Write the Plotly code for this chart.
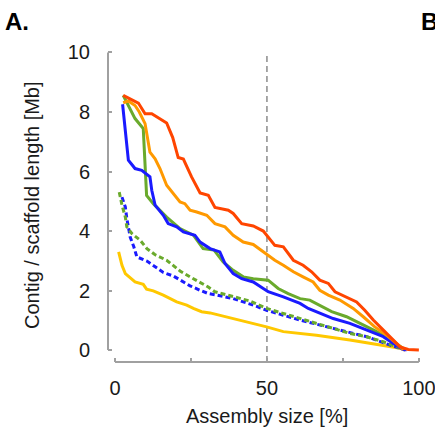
import plotly.graph_objects as go

# ---- data (Assembly size [%] vs contig/scaffold length [Mb]) ----
red_x = [2.7, 4.9, 7.7, 9.9, 12.1, 17.0, 19.0, 20.8, 22.5, 25.2, 28.0, 30.7, 32.9, 37.3, 38.9, 41.7, 45.5, 48.8, 50.4, 52.6, 55.4, 58.7, 61.9, 64.7, 67.4, 70.2, 72.4, 76.2, 79.5, 82.2, 85.0, 88.3, 91.0, 93.8, 96.5, 100]
red_y = [8.56, 8.44, 8.30, 7.94, 7.94, 7.63, 7.14, 6.47, 6.42, 5.82, 5.28, 5.20, 4.79, 4.70, 4.59, 4.25, 4.17, 4.00, 3.78, 3.52, 3.47, 3.02, 2.85, 2.63, 2.35, 2.24, 1.96, 1.79, 1.62, 1.34, 1.01, 0.67, 0.39, 0.11, 0.02, 0.0]

orange_x = [2.7, 4.4, 6.6, 8.0, 9.9, 11.5, 13.2, 14.8, 17.0, 21.4, 23.0, 24.7, 26.9, 30.2, 32.9, 36.2, 38.9, 42.2, 45.5, 49.3, 52.6, 55.4, 58.7, 61.9, 65.2, 67.4, 70.2, 74.0, 78.4, 81.7, 85.5, 89.4, 92.7, 95.0]
orange_y = [8.31, 8.37, 8.22, 8.0, 7.61, 6.65, 6.43, 6.10, 5.54, 4.98, 4.92, 4.70, 4.64, 4.53, 4.25, 4.14, 3.86, 3.63, 3.55, 3.25, 3.02, 2.85, 2.63, 2.46, 2.29, 2.01, 1.85, 1.68, 1.40, 1.12, 0.78, 0.50, 0.22, 0.02]

green_x = [2.7, 4.4, 6.6, 9.3, 10.4, 12.6, 17.0, 21.4, 25.8, 29.0, 32.6, 35.6, 38.9, 42.2, 45.5, 50.4, 53.7, 57.0, 60.9, 64.1, 66.3, 71.3, 76.2, 80.6, 86.1, 90.5, 93.8, 95.5]
green_y = [8.56, 8.22, 7.78, 7.44, 5.20, 4.92, 4.47, 4.08, 3.86, 3.41, 3.36, 2.96, 2.68, 2.46, 2.40, 2.35, 2.07, 1.90, 1.73, 1.68, 1.56, 1.29, 1.12, 0.90, 0.62, 0.34, 0.11, 0.02]

blue_x = [2.5, 4.4, 6.6, 8.8, 11.5, 12.1, 13.2, 15.9, 17.5, 20.3, 22.5, 26.3, 28.0, 31.3, 34.5, 36.2, 38.9, 41.7, 45.5, 50.4, 55.4, 60.9, 63.6, 66.3, 71.8, 77.3, 82.8, 88.3, 91.6, 94.3, 96.0]
blue_y = [8.26, 6.38, 6.10, 6.04, 5.82, 5.37, 4.87, 4.53, 4.25, 4.14, 3.97, 3.86, 3.63, 3.41, 3.30, 2.91, 2.57, 2.40, 2.29, 1.96, 1.79, 1.57, 1.40, 1.29, 1.06, 0.90, 0.67, 0.45, 0.22, 0.06, 0.0]

green_dash_x = [1.4, 2.3, 3.4, 3.9, 5.6, 8.3, 10.5, 13.1, 17.0, 21.4, 24.7, 27.9, 30.7, 32.9, 38.9, 44.4, 49.9, 55.4, 60.9, 66.3, 71.8, 77.3, 82.8, 88.3, 92.7, 95.0]
green_dash_y = [5.31, 4.87, 4.47, 4.14, 3.91, 3.69, 3.41, 3.21, 3.02, 2.66, 2.46, 2.29, 2.12, 1.96, 1.79, 1.65, 1.40, 1.23, 1.06, 0.90, 0.73, 0.56, 0.45, 0.28, 0.11, 0.02]

blue_dash_x = [2.3, 3.4, 3.9, 5.0, 6.2, 7.2, 10.5, 13.3, 15.9, 19.2, 21.9, 24.7, 28.0, 30.7, 33.4, 38.9, 45.5, 49.9, 55.4, 60.9, 71.8, 82.8, 90.5, 93.8, 95.5]
blue_dash_y = [5.14, 4.81, 4.42, 3.80, 3.47, 3.13, 2.99, 2.80, 2.61, 2.49, 2.33, 2.16, 2.01, 1.90, 1.85, 1.73, 1.51, 1.34, 1.17, 1.01, 0.73, 0.45, 0.17, 0.06, 0.0]

yellow_x = [1.2, 2.3, 3.4, 4.9, 6.6, 9.3, 10.4, 12.6, 15.9, 20.3, 23.6, 25.8, 28.5, 31.3, 38.9, 44.4, 49.9, 55.4, 60.9, 66.3, 77.3, 88.3, 93.8, 95.5]
yellow_y = [3.30, 2.85, 2.57, 2.43, 2.29, 2.21, 2.05, 1.99, 1.85, 1.62, 1.51, 1.40, 1.29, 1.25, 1.06, 0.90, 0.78, 0.62, 0.57, 0.50, 0.34, 0.17, 0.06, 0.0]

x_tick_vals = [0, 25, 50, 75, 100]
x_tick_text = ["0", "", "50", "", "100"]
y_tick_vals = [0, 2, 4, 6, 8, 10]

series = [
    (yellow_x, yellow_y, "#ffc800", "solid"),
    (blue_dash_x, blue_dash_y, "#1a1aff", "5px,3px"),
    (green_dash_x, green_dash_y, "#6aaa2c", "5px,3px"),
    (green_x, green_y, "#6aaa2c", "solid"),
    (blue_x, blue_y, "#1a1aff", "solid"),
    (orange_x, orange_y, "#ff9900", "solid"),
    (red_x, red_y, "#ff4500", "solid"),
]

fig = go.Figure()
for xs, ys, col, dash in series:
    fig.add_trace(go.Scatter(x=xs, y=ys, mode="lines",
                             line=dict(color=col, width=3, dash=dash),
                             showlegend=False, hoverinfo="skip"))

axis_grey = "#a0a0a0"
font_fam = "Liberation Sans, Arial, sans-serif"
PW, PH, L, T = 313, 311, 108, 51

fig.update_layout(
    width=435, height=427, autosize=False,
    margin=dict(l=L, r=14, t=T, b=65, pad=0, autoexpand=False),
    plot_bgcolor="white", paper_bgcolor="white",
    font=dict(family=font_fam, size=20, color="#1a1a1a"),
    xaxis=dict(range=[-2.3, 100.7], showgrid=False, zeroline=False, showline=False,
               tickvals=x_tick_vals, ticktext=x_tick_text, ticks="inside",
               ticklen=4, tickwidth=2, tickcolor=axis_grey, automargin=False,
               ticklabelstandoff=12, ticklabeloverflow="allow", tickfont=dict(size=20)),
    yaxis=dict(range=[-0.4, 10.05], showgrid=False, zeroline=False, showline=False,
               tickvals=y_tick_vals, ticks="inside", ticklen=4, tickwidth=2,
               tickcolor=axis_grey, automargin=False,
               ticklabelstandoff=17, tickfont=dict(size=20)),
    shapes=[
        dict(type="line", xref="x", yref="y", x0=50, x1=50, y0=-0.4, y1=10,
             line=dict(color="#8c8c8c", width=1.5, dash="6px,4px"), layer="below"),
        dict(type="line", xref="paper", yref="y", x0=0, x1=0, y0=0, y1=10,
             line=dict(color=axis_grey, width=2)),
        dict(type="line", xref="x", yref="paper", x0=0, x1=100, y0=0, y1=0,
             line=dict(color=axis_grey, width=2)),
    ],
    annotations=[
        dict(text="<b>A.</b>", xref="paper", yref="paper", x=(3 - L)/PW, y=1 + (T - 21)/PH,
             xanchor="left", yanchor="middle", showarrow=False,
             font=dict(size=24, color="black", family=font_fam)),
        dict(text="<b>B</b>", xref="paper", yref="paper", x=(419 - L)/PW, y=1 + (T - 21)/PH,
             xanchor="left", yanchor="middle", showarrow=False,
             font=dict(size=24, color="black", family=font_fam)),
        dict(text="Contig / scaffold length [Mb]", xref="paper", yref="paper",
             x=(32 - L)/PW, y=0.5 + (1.5)/PH, textangle=-90, showarrow=False,
             xanchor="center", yanchor="middle",
             font=dict(size=20, color="#1a1a1a", family=font_fam)),
        dict(text="Assembly size [%]", xref="x", yref="paper",
             x=50, y=-(416 - 362)/PH, showarrow=False,
             xanchor="center", yanchor="middle",
             font=dict(size=20, color="#1a1a1a", family=font_fam)),
    ],
)

fig.write_html("out.html", config={"displayModeBar": False},
               post_script="document.body.style.margin='0';document.body.style.overflow='hidden';")
